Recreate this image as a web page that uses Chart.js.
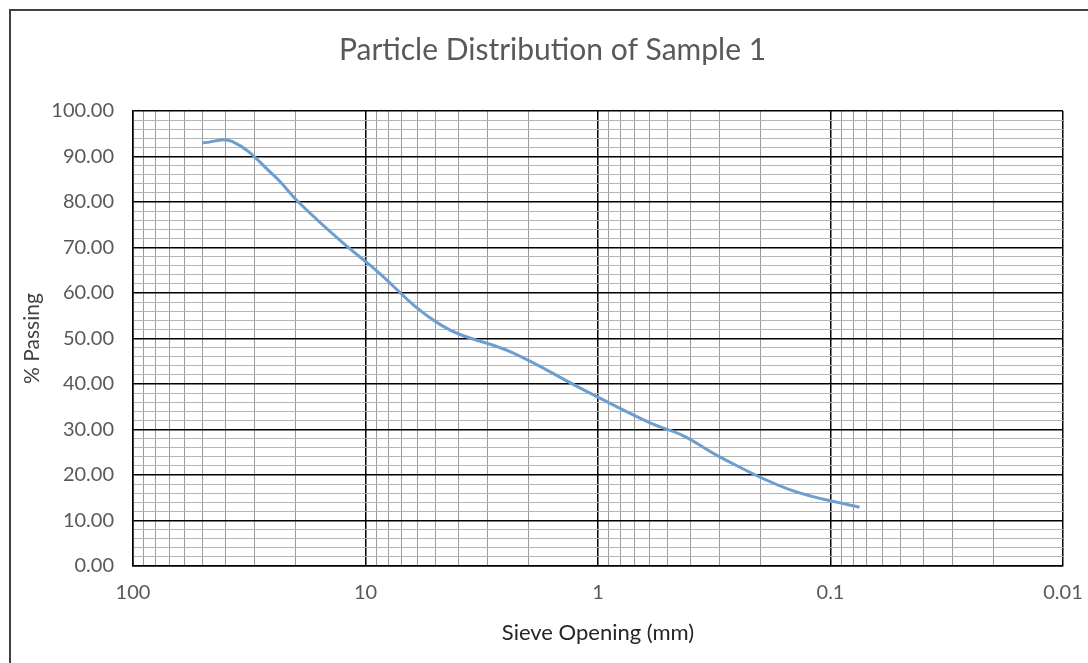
<!DOCTYPE html>
<html>
<head>
<meta charset="utf-8">
<script src="https://cdn.jsdelivr.net/npm/chart.js@4/dist/chart.umd.min.js"></script>
<style>
  html, body { margin: 0; padding: 0; background: #fff; }
  #wrap { position: relative; width: 1088px; height: 663px; }
  #frame { position: absolute; left: 9px; top: 9px; right: 0; bottom: 0;
           border-top: 2px solid #404040; border-left: 2px solid #404040; pointer-events: none; }
</style>
</head>
<body>
<div id="wrap">
  <canvas id="chart" width="1088" height="663"></canvas>
  <div id="frame"></div>
</div>
<script>
// sieve data
var sieveSizes = [50, 37.5, 25, 19, 12.5, 9.5, 4.75, 2.36, 1.18, 0.6, 0.425, 0.3, 0.15, 0.075];
var percentPassing = [93.0, 93.3, 86.0, 79.5, 71.0, 66.0, 53.0, 47.0, 39.0, 31.5, 28.5, 24.0, 16.8, 12.9];

var xDecades = [100, 10, 1, 0.1, 0.01];
var xTickLabels = ['100', '10', '1', '0.1', '0.01'];

// grid lines at 1..9 x each decade
var xGridValues = [];
xDecades.forEach(function(d) {
    if (d === 100) { xGridValues.push(d); return; }
    for (var m = 1; m <= 9; m++) {
        xGridValues.push(parseFloat((d * m).toPrecision(3)));
    }
});

function isDecade(v) {
    return xDecades.indexOf(v) !== -1;
}

var tickFont = { family: 'Lato', size: 20 };

var ctx = document.getElementById('chart').getContext('2d');
var myChart = new Chart(ctx, {
    type: 'line',
    data: {
        datasets: [{
            label: 'Sample 1',
            data: sieveSizes.map(function(s, i) { return { x: s, y: percentPassing[i] }; }),
            borderColor: '#6c9fcf',
            borderWidth: 3,
            pointRadius: 0,
            tension: 0.4,
            fill: false
        }]
    },
    options: {
        responsive: false,
        animation: false,
        layout: { padding: { left: 42, right: 25, top: 0, bottom: 0 } },
        plugins: {
            legend: { display: false },
            tooltip: { enabled: false },
            title: {
                display: true,
                text: 'Particle Distribution of Sample 1',
                color: '#595959',
                font: { family: 'Lato', size: 30, weight: 'normal' },
                padding: { top: 32, bottom: 43 }
            }
        },
        scales: {
            x: {
                type: 'logarithmic',
                reverse: true,
                min: 0.01,
                max: 100,
                afterBuildTicks: function(scale) {
                    scale.ticks = xGridValues.map(function(v) { return { value: v }; });
                },
                afterFit: function(scale) { scale.height = 97; },
                ticks: {
                    autoSkip: false,
                    maxRotation: 0,
                    padding: 15,
                    color: '#595959',
                    font: tickFont,
                    callback: function(value) {
                        var i = xDecades.indexOf(value);
                        return i === -1 ? '' : xTickLabels[i];
                    }
                },
                grid: {
                    drawTicks: false,
                    color: function(c) { return isDecade(c.tick.value) ? '#000' : '#9a9a9a'; },
                    lineWidth: function(c) { return isDecade(c.tick.value) ? 1.5 : 1; }
                },
                border: { display: true, color: '#000', width: 1.5 },
                title: {
                    display: true,
                    text: 'Sieve Opening (mm)',
                    color: '#262626',
                    font: { family: 'Lato', size: 22 },
                    padding: { top: 0, bottom: 17 }
                }
            },
            y: {
                min: 0,
                max: 100,
                afterFit: function(scale) { scale.width = 91; },
                ticks: {
                    stepSize: 2,
                    autoSkip: false,
                    padding: 19,
                    color: '#595959',
                    font: tickFont,
                    callback: function(value) {
                        return value % 10 === 0 ? value.toFixed(2) : '';
                    }
                },
                grid: {
                    drawTicks: false,
                    color: function(c) { return c.tick.value % 10 === 0 ? '#000' : '#b4b4b4'; },
                    lineWidth: function(c) { return c.tick.value % 10 === 0 ? 1.5 : 1; }
                },
                border: { display: true, color: '#000', width: 1.5 },
                title: {
                    display: true,
                    text: '% Passing',
                    color: '#404040',
                    font: { family: 'Lato', size: 21 },
                    padding: { top: -22, bottom: 0 }
                }
            }
        }
    }
});
</script>
</body>
</html>
